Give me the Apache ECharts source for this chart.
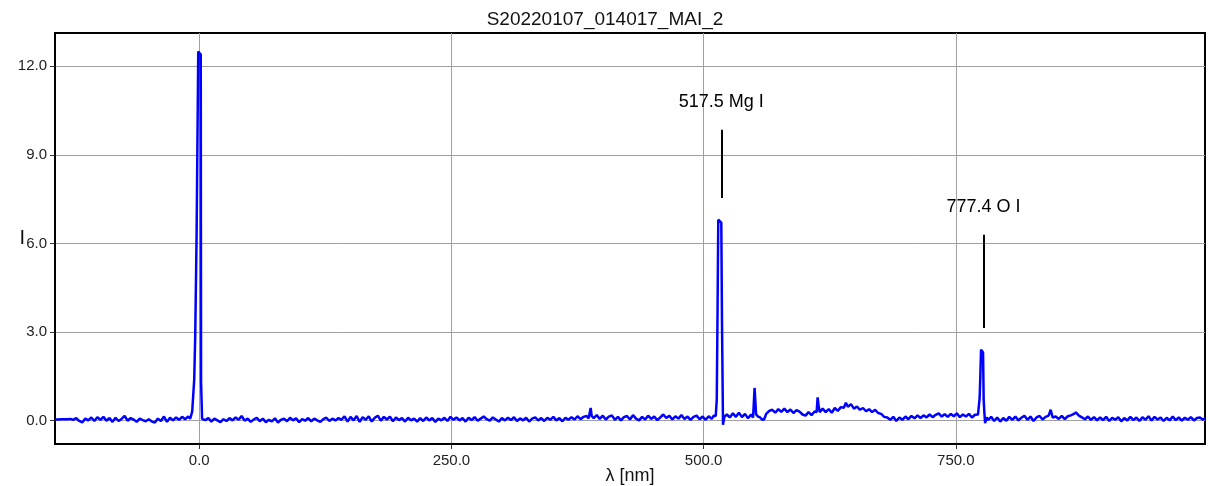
<!DOCTYPE html>
<html>
<head>
<meta charset="utf-8">
<script src="https://cdn.jsdelivr.net/npm/echarts@6/dist/echarts.min.js"></script>
<style>
  html, body { margin: 0; padding: 0; background: #ffffff; }
  #chart { width: 1210px; height: 486px; }
</style>
</head>
<body>
<div id="chart"></div>
<script>
// ---- data (wavelength nm, intensity) ----
const chartTitle = 'S20220107_014017_MAI_2';
const xName = 'λ [nm]';
const yName = 'I';
const xTicks = [0, 250, 500, 750];
const yTicks = [0, 3, 6, 9, 12];

const segBeforeH = [
  [-143,0.03],[-140,0.03],[-137,0.04],[-134,0.04],[-131,0.04],[-128,0.05],[-125,0.02],[-122,0.08],[-119,-0.02],[-116,-0.07],
  [-113,0.06],[-110,0.0],[-107,0.1],[-104,-0.02],[-101,0.11],[-98,0.02],[-95,0.12],[-92,-0.01],[-89,0.08],[-86,-0.05],
  [-83,0.09],[-80,-0.02],[-77,0.05],[-74,0.15],[-71,-0.01],[-68,0.08],[-65,0.03],[-62,-0.05],[-59,0.06],[-56,0.01],
  [-53,-0.03],[-50,0.04],[-47,-0.04],[-44,-0.07],[-41,0.06],[-38,-0.02],[-35,0.13],[-32,-0.05],[-29,0.09],[-26,0.0],
  [-23,0.1],[-20,0.02],[-17,0.12],[-14,0.04],[-11,0.13],[-9,0.06]
];
const peakH = [
  [-7,0.3],[-5,1.38],[-4,2.85],[-2.6,6.36],[-1,12.5],[0,12.55],[1.5,12.4],[1.8,1.3],[2.4,1.27],[2.8,0.05],[4,0.08]
];
const segHtoMg = [
  [6,0.01],[9,0.08],[12,-0.04],[15,0.06],[18,0.0],[21,-0.06],[24,0.04],[27,-0.02],[30,0.08],[33,0.0],
  [36,0.1],[39,0.02],[42,0.15],[45,-0.01],[48,0.06],[51,-0.05],[54,0.03],[57,0.09],[60,-0.03],[63,0.06],
  [66,-0.06],[69,0.02],[72,-0.03],[75,0.07],[78,-0.07],[81,0.02],[84,0.06],[87,-0.03],[90,0.09],[93,0.0],
  [96,0.07],[99,-0.06],[102,0.04],[105,-0.01],[108,0.08],[111,-0.03],[114,0.06],[117,0.0],[120,-0.05],[123,0.04],
  [126,0.09],[129,-0.02],[132,0.06],[135,0.0],[138,0.08],[141,0.02],[144,0.14],[147,-0.04],[150,0.12],[153,0.0],
  [156,0.15],[159,-0.05],[162,0.11],[165,0.02],[168,0.14],[171,-0.04],[174,0.09],[177,0.16],[180,-0.01],[183,0.12],
  [186,0.03],[189,0.13],[192,-0.03],[195,0.1],[198,0.01],[201,0.08],[204,-0.04],[207,0.09],[210,0.0],[213,0.06],
  [216,-0.04],[219,0.08],[222,-0.02],[225,0.1],[228,0.0],[231,0.08],[234,-0.05],[237,0.06],[240,0.0],[243,0.09],
  [246,-0.02],[249,0.12],[252,0.02],[255,0.1],[258,0.0],[261,0.08],[264,-0.04],[267,0.09],[270,0.01],[273,0.11],
  [276,-0.01],[279,0.06],[282,0.13],[285,0.04],[288,-0.01],[291,0.1],[294,0.03],[297,-0.04],[300,0.08],[303,0.0],
  [306,0.09],[309,0.01],[312,0.11],[315,-0.02],[318,0.07],[321,0.0],[324,0.09],[327,-0.04],[330,0.06],[333,0.1],
  [336,0.0],[339,0.08],[342,-0.02],[345,0.09],[348,0.02],[351,0.12],[354,0.0],[357,0.08],[360,-0.03],[363,0.09],
  [366,0.02],[369,0.11],[372,0.03],[375,0.14],[378,0.04],[381,0.12],[384,0.15],[386,0.07],[388,0.42],[389,0.15],
  [391,0.08],[394,0.18],[397,0.05],[400,0.16],[403,0.03],[406,0.13],[409,0.17],[412,0.02],[415,0.12],[418,0.0],
  [421,0.11],[424,0.15],[427,0.03],[430,0.18],[433,0.06],[436,0.0],[439,0.12],[442,0.03],[445,0.16],[448,0.05],
  [451,0.13],[454,0.01],[457,0.1],[460,0.2],[463,0.08],[466,0.16],[469,0.03],[472,0.14],[475,0.06],[478,0.18],
  [481,0.05],[484,0.13],[487,0.02],[490,0.12],[493,0.16],[496,0.04],[499,0.13],[502,0.02],[505,0.14],[508,0.05],
  [510,0.16],[512,0.15]
];
const peakMg = [
  [513,0.7],[513.8,3.75],[514.5,6.8],[516,6.82],[517.5,6.7],[518.2,3.3],[519.2,-0.15],[520.5,0.12]
];
const segMgtoO = [
  [523,0.2],[526,0.1],[529,0.24],[532,0.12],[535,0.26],[538,0.11],[541,0.22],[544,0.07],[547,0.2],[549,0.1],
  [550.5,1.1],[551.5,1.1],[552,0.2],[554,0.13],[556,0.1],[558,0.02],[560,0.04],[562,0.22],[565,0.32],[568,0.36],
  [571,0.26],[574,0.38],[577,0.29],[580,0.4],[583,0.28],[586,0.37],[589,0.25],[592,0.35],[595,0.3],[598,0.2],
  [601,0.16],[604,0.28],[607,0.18],[610,0.3],[612,0.28],[613,0.78],[614,0.5],[615,0.28],[618,0.4],[621,0.28],
  [624,0.38],[627,0.26],[630,0.42],[633,0.32],[636,0.45],[639,0.43],[641,0.6],[643,0.46],[646,0.55],[649,0.4],
  [652,0.47],[655,0.36],[658,0.42],[661,0.31],[664,0.38],[667,0.28],[670,0.36],[673,0.25],[676,0.22],[679,0.12],
  [682,0.1],[685,0.02],[688,0.12],[691,-0.02],[694,0.1],[697,0.02],[700,0.13],[703,0.04],[706,0.15],[709,0.07],
  [712,0.17],[715,0.08],[718,0.17],[721,0.1],[724,0.2],[727,0.11],[730,0.19],[733,0.24],[736,0.13],[739,0.21],
  [742,0.12],[745,0.22],[748,0.14],[751,0.24],[754,0.11],[757,0.2],[760,0.13],[763,0.22],[766,0.1],[769,0.19],
  [772,0.2]
];
const peakO = [
  [773.3,0.26],[773.6,0.76],[774.3,1.5],[775,2.4],[776,2.35],[777,2.3],[777.6,0.7],[778.3,0.25],[779,-0.09],[780.5,0.1]
];
const segAfterO = [
  [782,0.02],[785,0.12],[788,-0.02],[791,0.1],[794,-0.04],[797,0.08],[800,-0.01],[803,0.12],[806,0.02],[809,0.13],
  [812,0.0],[815,0.09],[818,0.16],[821,0.02],[824,0.13],[827,-0.02],[830,0.1],[833,0.15],[836,0.03],[839,0.12],
  [842,0.16],[844,0.36],[846,0.1],[849,0.13],[852,0.05],[855,0.15],[858,0.04],[861,0.14],[864,0.17],[867,0.22],
  [869,0.27],[872,0.16],[875,0.1],[878,0.04],[881,0.13],[884,0.02],[887,0.11],[890,0.0],[893,0.1],[896,0.01],
  [899,0.12],[902,-0.02],[905,0.09],[908,0.02],[911,0.11],[914,-0.03],[917,0.08],[920,0.0],[923,0.12],[926,0.01],
  [929,0.1],[932,-0.02],[935,0.11],[938,0.02],[941,0.14],[944,0.0],[947,0.12],[950,0.03],[953,0.1],[956,-0.02],
  [959,0.09],[962,0.0],[965,0.13],[968,0.01],[971,0.1],[974,-0.01],[977,0.09],[980,0.02],[983,0.11],[986,0.0],
  [989,0.08],[992,0.1],[995,0.02],[997,0.07]
];

// annotations
const annotLambda = [517.5, 777.4];
const annotText = ['517.5 Mg I', '777.4 O I'];
const annotLineLow = [7.54, 3.13];
const annotLineHigh = [9.85, 6.29];
const annotTextI = [10.8, 7.22];

// ---- build ----
const spectrum = [].concat(segBeforeH, peakH, segHtoMg, peakMg, segMgtoO, peakO, segAfterO);

const FONT = '"Liberation Sans", Arial, sans-serif';
const chart = echarts.init(document.getElementById('chart'), null, { renderer: 'canvas' });

chart.setOption({
  animation: false,
  backgroundColor: '#ffffff',
  title: {
    text: chartTitle,
    left: 'center',
    top: 5,
    textStyle: { fontFamily: FONT, fontSize: 19, fontWeight: 'normal', color: '#111111' }
  },
  grid: {
    left: 55, right: 5, top: 33, bottom: 42,
    containLabel: false,
    outerBoundsMode: 'none',
    show: true, borderColor: '#000000', borderWidth: 2, backgroundColor: 'transparent'
  },
  xAxis: {
    type: 'value',
    min: -143, max: 997,
    name: xName,
    nameLocation: 'middle',
    nameGap: 23,
    nameMoveOverlap: false,
    nameTextStyle: { fontFamily: FONT, fontSize: 18, color: '#111111' },
    axisLine: { show: true, onZero: false, lineStyle: { color: '#000000', width: 2 } },
    axisTick: { show: true, length: 5, customValues: xTicks, lineStyle: { color: '#333', width: 1 } },
    axisLabel: {
      customValues: xTicks, margin: 9,
      fontFamily: FONT, fontSize: 15, color: '#222222',
      formatter: v => v.toFixed(1)
    },
    splitLine: { show: true, lineStyle: { color: '#a0a0a0', width: 1 } }
  },
  yAxis: {
    type: 'value',
    min: -0.8, max: 13.13,
    name: yName,
    nameLocation: 'middle',
    nameRotate: 0,
    nameGap: 30,
    nameMoveOverlap: false,
    nameTextStyle: { fontFamily: FONT, fontSize: 20, color: '#111111', verticalAlign: 'middle' },
    axisLine: { show: true, onZero: false, lineStyle: { color: '#000000', width: 2 } },
    axisTick: { show: true, length: 5, customValues: yTicks, lineStyle: { color: '#333', width: 1 } },
    axisLabel: {
      customValues: yTicks, margin: 8,
      fontFamily: FONT, fontSize: 15, color: '#222222',
      formatter: v => v.toFixed(1)
    },
    splitLine: { show: true, lineStyle: { color: '#a0a0a0', width: 1 } }
  },
  series: [
    {
      type: 'line',
      data: spectrum,
      showSymbol: false,
      symbol: 'none',
      lineStyle: { color: '#0000ff', width: 2.5 },
      z: 3,
      markLine: {
        silent: true,
        symbol: ['none', 'none'],
        label: { show: false },
        lineStyle: { color: '#000000', width: 2, type: 'solid' },
        data: annotLambda.map((l, i) => [
          { coord: [l, annotLineLow[i]] },
          { coord: [l, annotLineHigh[i]] }
        ])
      }
    },
    {
      type: 'scatter',
      data: annotLambda.map((l, i) => [l, annotTextI[i]]),
      symbolSize: 0,
      itemStyle: { color: '#000000', opacity: 1 },
      label: {
        show: true,
        position: 'inside',
        fontFamily: FONT, fontSize: 18, color: '#000000',
        formatter: p => annotText[p.dataIndex]
      },
      z: 4
    }
  ]
});
</script>
</body>
</html>
